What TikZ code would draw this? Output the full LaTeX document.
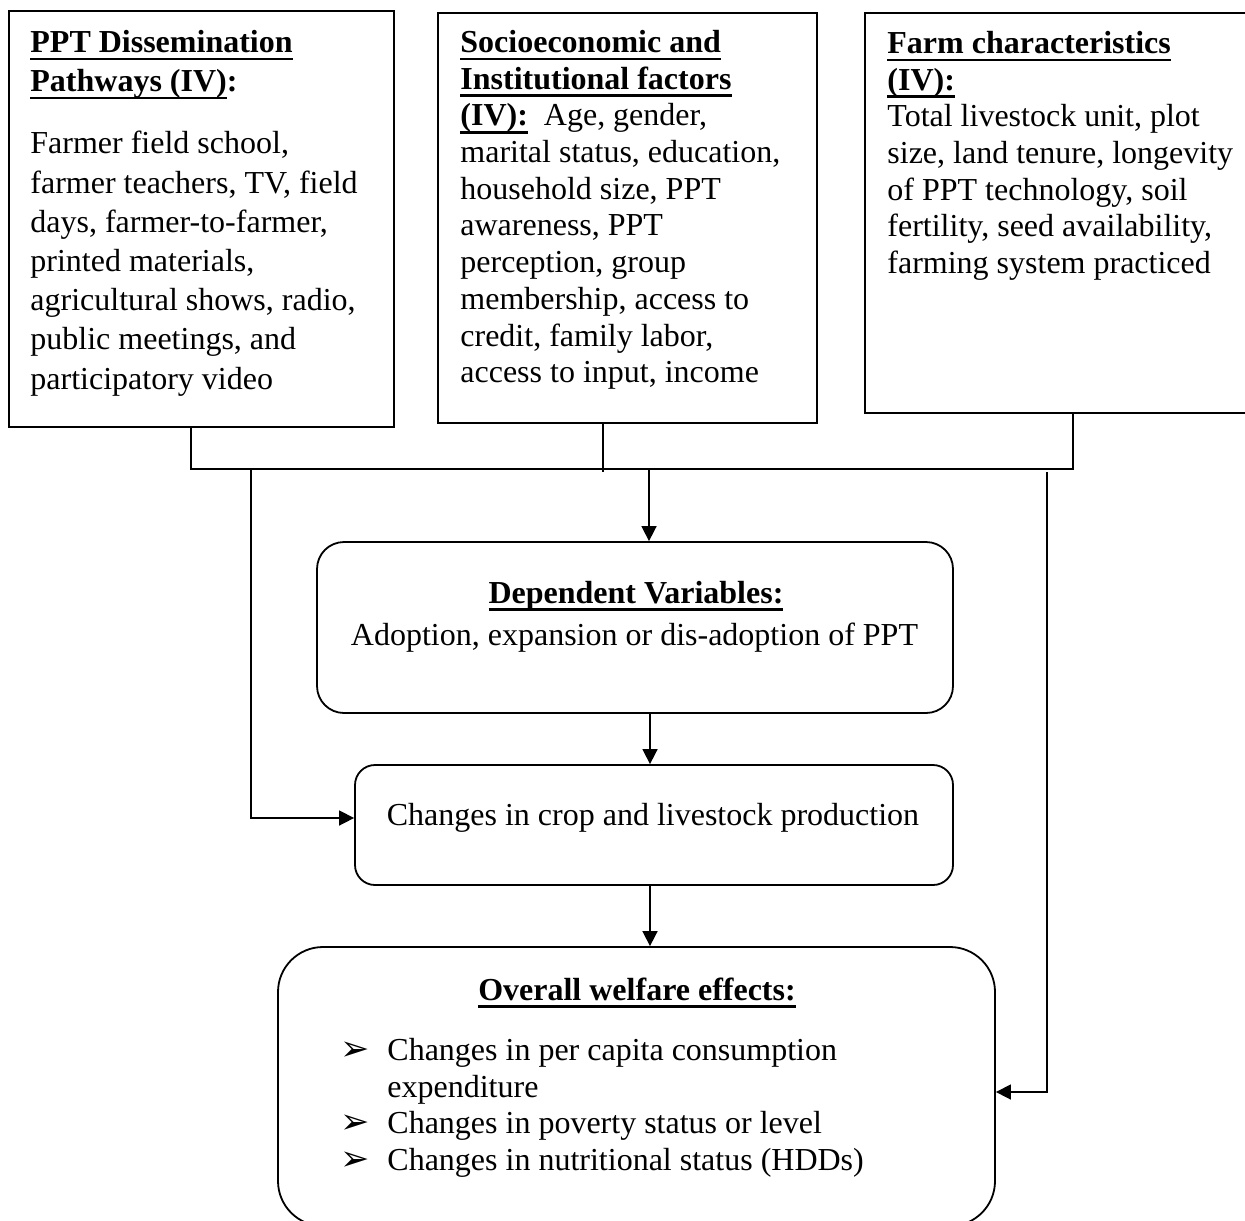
\documentclass[tikz,border=0pt]{standalone}
\usepackage{fontspec}
\setmainfont{Liberation Serif}
\newfontfamily\symfont{DejaVu Sans}
\usetikzlibrary{arrows.meta}
\newsavebox\ulbox
\newcommand{\ulb}[1]{\leavevmode\sbox\ulbox{\bfseries #1}\rlap{\rule[-3.9pt]{\wd\ulbox}{1.3pt}}\usebox\ulbox}
\newcommand{\tstrut}{\rule{0pt}{14pt}}
\newcommand{\bul}{\makebox[23.5pt][l]{\symfont\fontsize{17.5pt}{18pt}\selectfont ➢}}
\begin{document}
\begin{tikzpicture}[x=0.5pt,y=-0.5pt,
  sqbox/.style={draw, line width=1pt, inner sep=0pt},
  rbox/.style={draw, line width=0.9pt, inner sep=0pt},
  txt/.style={anchor=north west, inner sep=0pt, align=left},
  ctxt/.style={anchor=base, inner sep=0pt},
  link/.style={line width=0.6pt},
  arr/.style={line width=0.8pt, -{Triangle[length=7.5pt,width=7.5pt]}},
  font=\fontsize{16pt}{18.35pt}\selectfont]
\useasboundingbox (0,0) rectangle (1245,1220);

% top boxes
\node[sqbox, minimum width=192.5pt, minimum height=208pt] (b1) at (201.5,219) {};
\node[sqbox, minimum width=189.5pt, minimum height=205pt] (b2) at (627.5,218) {};
\node[sqbox, minimum width=195pt, minimum height=200pt] (b3) at (1060,213) {};

\node[txt, font=\fontsize{16pt}{19.6pt}\selectfont] (t1) at (30,24)
  {\tstrut\ulb{PPT Dissemination}\\ \ulb{Pathways (IV)}\textbf{:}\\[11.5pt]
   Farmer field school,\\ farmer teachers, TV, field\\ days, farmer-to-farmer,\\
   printed materials,\\ agricultural shows, radio,\\ public meetings, and\\ participatory video};
\node[txt] (t2) at (460,24)
  {\tstrut\ulb{Socioeconomic and}\\ \ulb{Institutional factors}\\ \ulb{(IV):}\ \ Age, gender,\\
   marital status, education,\\ household size, PPT\\ awareness, PPT\\ perception, group\\
   membership, access to\\ credit, family labor,\\ access to input, income};
\node[txt] (t3) at (887,25)
  {\tstrut\ulb{Farm characteristics}\\ \ulb{(IV):}\\ Total livestock unit, plot\\
   size, land tenure, longevity\\ of PPT technology, soil\\ fertility, seed availability,\\
   farming system practiced};

% rounded boxes
\node[rbox, rounded corners=13.5pt, minimum width=318pt, minimum height=85.5pt] (dep) at (635,627.5) {};
\node[ctxt] (dept) at (636,603) {\ulb{Dependent Variables:}};
\node[ctxt] (depb) at (634.5,645) {Adoption, expansion or dis-adoption of PPT};

\node[rbox, rounded corners=10pt, minimum width=299pt, minimum height=60pt] (crop) at (654,825) {};
\node[ctxt] (cropt) at (653,825) {Changes in crop and livestock production};

\node[rbox, rounded corners=22.5pt, minimum width=358.5pt, minimum height=139.5pt] (welf) at (636.5,1086.5) {};
\node[ctxt] (welft) at (637,1000) {\ulb{Overall welfare effects:}};
\node[txt] (welfl) at (340,1032)
  {\tstrut\bul Changes in per capita consumption\\
   \hspace*{23.5pt}expenditure\\
   \bul Changes in poverty status or level\\
   \bul Changes in nutritional status (HDDs)};

% connectors
\coordinate (h1) at (191,469);
\coordinate (h2) at (1073,469);
\coordinate (h3) at (603,472);
\coordinate (m1) at (649,469);
\coordinate (l1) at (251,469);
\coordinate (l2) at (251,818);
\coordinate (r1) at (1047,472);
\coordinate (r2) at (1047,1092);
\coordinate (c1) at (650,0);

\draw[link] (b1.south -| h1) -- (h1) -- (h2) -- (b3.south -| h2);
\draw[link] (b2.south -| h3) -- (h3);
\draw[arr] (m1) -- (dep.north -| m1);
\draw[arr] (l1) -- (l2) -- (crop.west |- l2);
\draw[arr] (r1) -- (r2) -- (welf.east |- r2);
\draw[arr] (dep.south -| c1) -- (crop.north -| c1);
\draw[arr] (crop.south -| c1) -- (welf.north -| c1);
\end{tikzpicture}
\end{document}
